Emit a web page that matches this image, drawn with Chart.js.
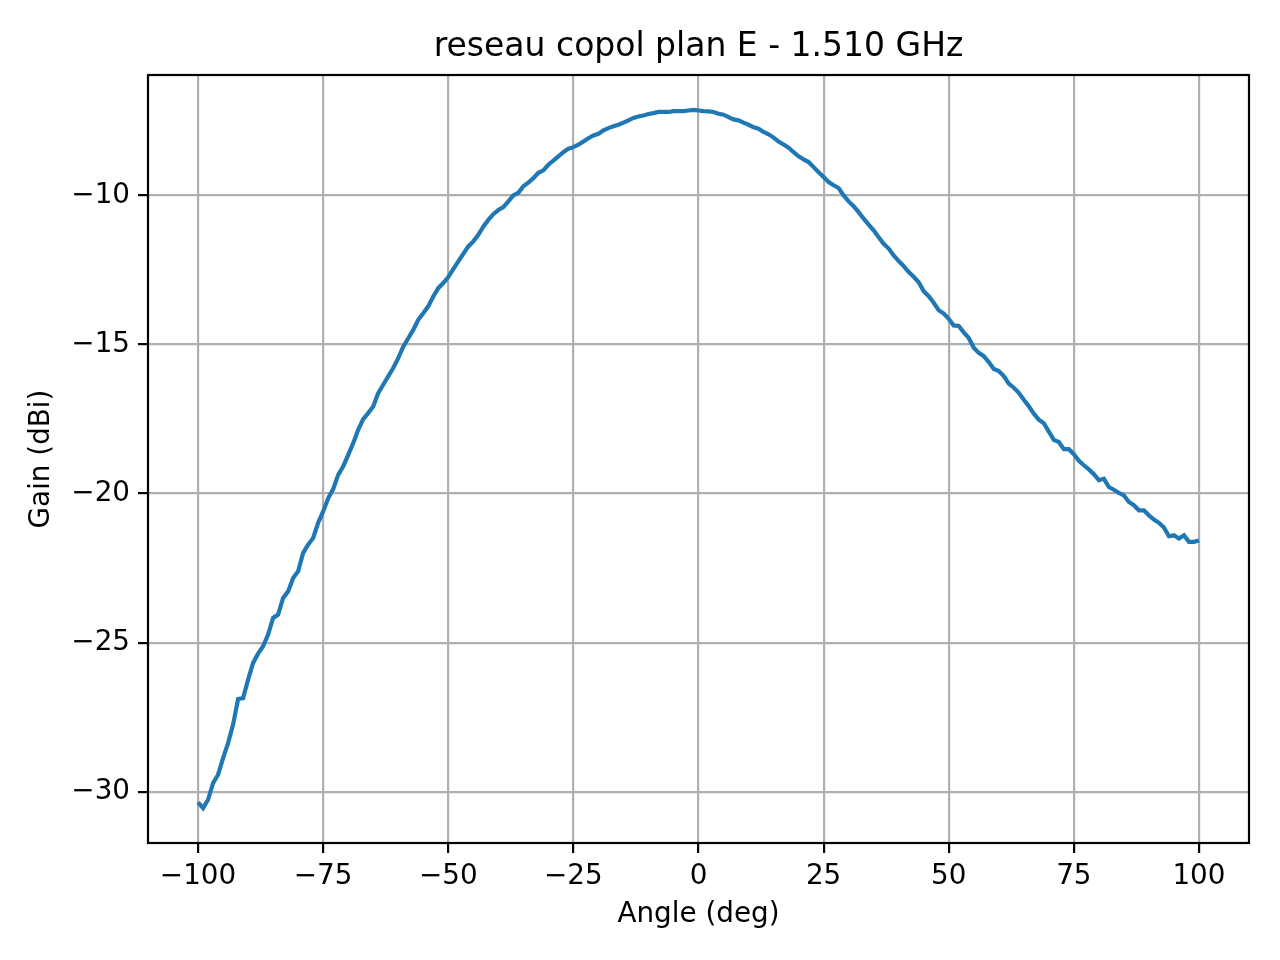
<!DOCTYPE html>
<html>
<head>
<meta charset="utf-8">
<script src="https://cdn.jsdelivr.net/npm/chart.js@4/dist/chart.umd.min.js"></script>
<style>
html,body{margin:0;padding:0;background:#fff;}
canvas{display:block;}
</style>
</head>
<body>
<canvas id="c" width="1280" height="960"></canvas>
<script>
const chartTitle = "reseau copol plan E - 1.510 GHz";
const xLabel = "Angle (deg)";
const yLabel = "Gain (dBi)";
const xTicks = [-100, -75, -50, -25, 0, 25, 50, 75, 100];
const yTicks = [-30, -25, -20, -15, -10];

const angles = [];
for (let a = -100; a <= 100; a++) angles.push(a);

const gain = [
  -30.36,-30.55,-30.27,-29.71,-29.43,-28.87,-28.37,-27.75,-26.89,-26.86,
  -26.24,-25.68,-25.37,-25.12,-24.73,-24.17,-24.06,-23.50,-23.28,-22.83,
  -22.61,-21.99,-21.71,-21.49,-20.98,-20.60,-20.16,-19.85,-19.37,-19.09,
  -18.70,-18.31,-17.86,-17.50,-17.30,-17.08,-16.63,-16.35,-16.07,-15.79,
  -15.46,-15.07,-14.79,-14.51,-14.17,-13.95,-13.72,-13.39,-13.11,-12.94,
  -12.74,-12.47,-12.21,-11.96,-11.71,-11.54,-11.32,-11.05,-10.82,-10.63,
  -10.49,-10.39,-10.20,-10.00,-9.91,-9.69,-9.57,-9.42,-9.24,-9.16,
  -8.97,-8.83,-8.69,-8.55,-8.43,-8.38,-8.30,-8.19,-8.08,-7.99,
  -7.93,-7.82,-7.74,-7.68,-7.63,-7.56,-7.48,-7.40,-7.35,-7.32,
  -7.27,-7.24,-7.20,-7.20,-7.20,-7.17,-7.17,-7.17,-7.15,-7.13,
  -7.15,
  -7.17,-7.18,-7.20,-7.26,-7.29,-7.37,-7.45,-7.48,-7.56,-7.63,
  -7.71,-7.76,-7.87,-7.95,-8.06,-8.19,-8.29,-8.40,-8.55,-8.69,
  -8.79,-8.88,-9.05,-9.22,-9.38,-9.55,-9.66,-9.75,-10.00,-10.20,
  -10.36,-10.56,-10.78,-10.98,-11.17,-11.40,-11.62,-11.78,-12.01,-12.20,
  -12.37,-12.57,-12.73,-12.91,-13.21,-13.38,-13.60,-13.85,-13.96,-14.14,
  -14.36,-14.38,-14.59,-14.78,-15.11,-15.28,-15.39,-15.59,-15.82,-15.89,
  -16.06,-16.31,-16.45,-16.62,-16.85,-17.07,-17.32,-17.52,-17.64,-17.92,
  -18.20,-18.27,-18.51,-18.51,-18.68,-18.90,-19.05,-19.19,-19.35,-19.55,
  -19.50,-19.78,-19.87,-19.98,-20.06,-20.28,-20.39,-20.56,-20.56,-20.73,
  -20.87,-20.98,-21.14,-21.43,-21.40,-21.51,-21.40,-21.62,-21.62,-21.57
];

const points = angles.map((a, i) => ({x: a, y: gain[i]}));
const FONT = "'DejaVu Sans', sans-serif";
const fmt = v => (v < 0 ? "\u2212" + Math.abs(v) : String(v));

const framePlugin = {
  id: 'frame',
  afterDatasetsDraw(chart) {
    const {ctx, chartArea: a} = chart;
    ctx.save();
    ctx.strokeStyle = '#000';
    ctx.lineWidth = 2.2;
    ctx.strokeRect(a.left, a.top, a.right - a.left, a.bottom - a.top);
    ctx.restore();
  },
  afterDraw(chart) {
    const {ctx, chartArea: a} = chart;
    ctx.save();
    ctx.fillStyle = '#000';
    ctx.font = "33px " + FONT;
    ctx.textAlign = 'center';
    ctx.textBaseline = 'middle';
    ctx.fillText(chartTitle, (a.left + a.right) / 2, 47);
    ctx.restore();
  }
};

new Chart(document.getElementById('c'), {
  type: 'line',
  data: {
    datasets: [{
      data: points,
      borderColor: '#1f77b4',
      borderWidth: 4.2,
      pointRadius: 0,
      tension: 0,
      fill: false
    }]
  },
  options: {
    responsive: false,
    devicePixelRatio: 1,
    animation: false,
    layout: {padding: {left: 0, right: 31, top: 75, bottom: 0}},
    plugins: {
      legend: {display: false},
      tooltip: {enabled: false},
      title: {display: false}
    },
    scales: {
      x: {
        type: 'linear',
        min: -110, max: 110,
        afterBuildTicks: s => { s.ticks = xTicks.map(v => ({value: v})); },
        afterFit: s => { s.height = 117; },
        border: {display: false},
        grid: {color: '#b0b0b0', lineWidth: 2.2, tickColor: '#000', tickLength: 10, tickWidth: 2.2},
        ticks: {color: '#000', font: {family: FONT, size: 27.8}, padding: 7, maxRotation: 0, autoSkip: false, callback: v => fmt(v)},
        title: {display: true, text: xLabel, color: '#000', font: {family: FONT, size: 27.8}, padding: {top: 0, bottom: 29}}
      },
      y: {
        type: 'linear',
        min: -31.72, max: -5.96,
        afterBuildTicks: s => { s.ticks = yTicks.map(v => ({value: v})); },
        afterFit: s => { s.width = 148; },
        border: {display: false},
        grid: {color: '#b0b0b0', lineWidth: 2.2, tickColor: '#000', tickLength: 10, tickWidth: 2.2},
        ticks: {color: '#000', font: {family: FONT, size: 27.8}, padding: 8, autoSkip: false, callback: v => fmt(v)},
        title: {display: true, text: yLabel, color: '#000', font: {family: FONT, size: 27.8}, padding: {top: 25, bottom: 0}}
      }
    }
  },
  plugins: [framePlugin]
});
</script>
</body>
</html>
